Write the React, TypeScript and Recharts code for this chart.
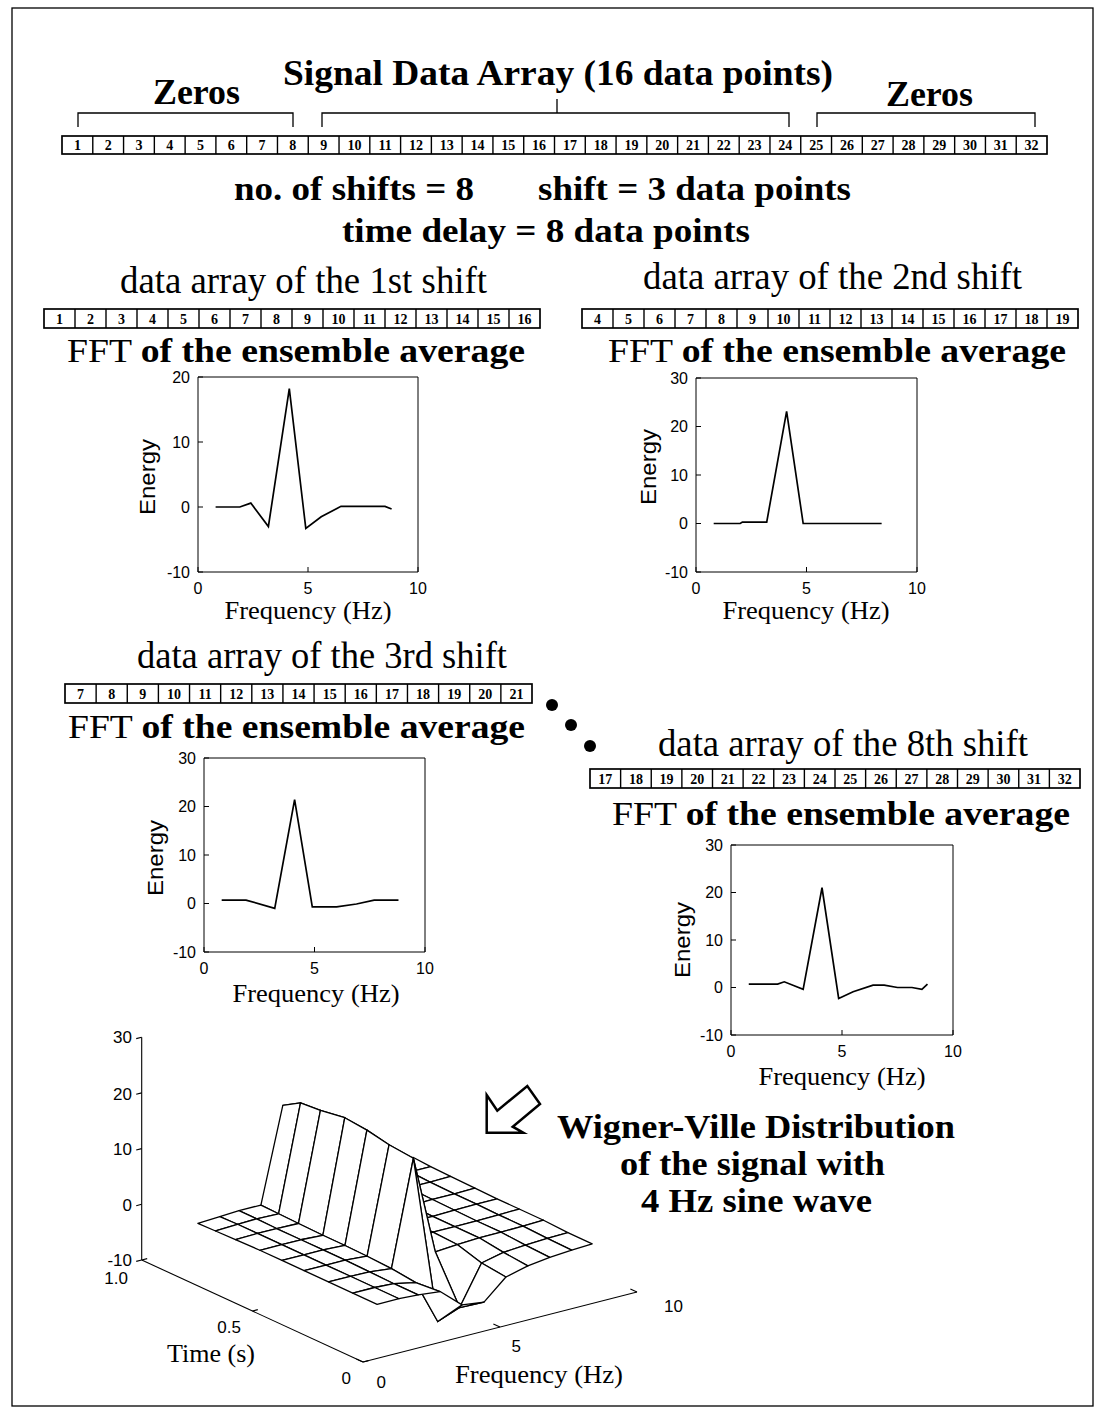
import React from 'react';
import { LineChart, Line, XAxis, YAxis, ScatterChart, Scatter } from 'recharts';

const SERIF = 'Liberation Serif, Times New Roman, Times, serif';
const SANS = 'Liberation Sans, Arial, Helvetica, sans-serif';

const range = (a: number, b: number) => Array.from({ length: b - a + 1 }, (_, i) => a + i);

// cell labels of the data arrays
const SIGNAL_CELLS = range(1, 32);
const SHIFT1_CELLS = range(1, 16);
const SHIFT2_CELLS = range(4, 19);
const SHIFT3_CELLS = range(7, 21);
const SHIFT8_CELLS = range(17, 32);

// FFT of the ensemble average
const FREQ_1 = [0.8, 1.9, 2.4, 3.2, 4.15, 4.9, 5.6, 6.5, 8.5, 8.8];
const ENERGY_1 = [0, 0, 0.6, -3.0, 18.2, -3.3, -1.5, 0.1, 0.1, -0.3];
const FREQ_2 = [0.8, 2.0, 2.1, 3.2, 4.1, 4.85, 8.4];
const ENERGY_2 = [0, 0, 0.3, 0.3, 23.1, 0, 0];
const FREQ_3 = [0.8, 1.9, 3.2, 4.1, 4.9, 6.0, 6.9, 7.7, 8.8];
const ENERGY_3 = [0.7, 0.7, -1.0, 21.4, -0.7, -0.7, -0.1, 0.7, 0.7];
const FREQ_8 = [0.8, 2.1, 2.4, 3.25, 4.1, 4.85, 5.5, 6.4, 6.9, 7.5, 8.15, 8.6, 8.85];
const ENERGY_8 = [0.7, 0.7, 1.2, -0.4, 21, -2.3, -0.9, 0.5, 0.5, 0, 0, -0.4, 0.7];

const FREQ_TICKS = [0, 5, 10];
const ENERGY_TICKS_20 = [-10, 0, 10, 20];
const ENERGY_TICKS_30 = [-10, 0, 10, 20, 30];

// Wigner-Ville distribution surface: rows = time, columns = frequency
const WV_FREQ = [1.0, 1.8, 2.5, 3.3, 4.1, 4.9, 5.7, 6.5, 7.3, 8.1, 8.85];
const WV_TIME = [0.06, 0.17, 0.28, 0.39, 0.49, 0.59, 0.7, 0.79, 0.87];
const WV_ENERGY = [
  [-2.0, -2.0, -2.2, -2.6, -6.0, -6.5, -3.0, -2.0, -1.5, -1.2, -1.0],
  [-2.0, -2.0, -2.2, -3.0, -11.0, -9.5, -2.5, -1.6, -1.3, -1.1, -1.0],
  [-2.0, -2.0, -2.1, -2.5, 16.3, -1.5, -1.2, -1.0, -1.0, -0.9, -0.8],
  [-2.0, -2.0, -2.0, -2.3, 16.7, -1.2, -1.0, -1.0, -1.0, -0.9, -0.8],
  [-2.0, -2.0, -2.0, -2.2, 17.5, -1.0, -1.0, -1.0, -0.9, -0.8, -0.8],
  [-2.0, -2.0, -2.0, -2.2, 17.9, -1.0, -1.0, -0.9, -0.8, -0.8, -0.7],
  [-2.1, -2.0, -2.0, -2.1, 17.2, -0.8, -0.8, -0.8, -0.7, -0.7, -0.6],
  [-2.2, -2.0, -1.9, -2.0, 16.9, -0.6, -0.6, -0.6, -0.6, -0.5, -0.5],
  [-2.3, -2.1, -1.9, -1.9, 15.0, -0.3, -0.4, -0.4, -0.4, -0.4, -0.3],
];
const WV_Z_TICKS = [-10, 0, 10, 20, 30];
const WV_T_TICKS = [0, 0.5, 1];
const WV_F_TICKS = [0, 5, 10];

// view of the 3-D box (azimuth/elevation as seen in the picture)
const proj = (f: number, t: number, z: number) => ({
  x: 363 + 27.4 * f - 221.3 * t,
  y: 1362 - 7 * f - 102 * t - 5.57 * (z + 10),
});

const noShape = () => <g />;
const quadLine = (p: any) => {
  const pts = p.points || [];
  const d = pts.map((q: any, i: number) => `${i ? 'L' : 'M'}${q.x},${q.y}`).join(' ') + ' Z';
  return <path d={d} fill="#fff" stroke="#000" strokeWidth={1.3} strokeLinejoin="round" />;
};
const axisLine = (p: any) => {
  const pts = p.points || [];
  const d = pts.map((q: any, i: number) => `${i ? 'L' : 'M'}${q.x},${q.y}`).join(' ');
  return <path d={d} fill="none" stroke="#000" strokeWidth={1.1} />;
};

function Txt({ x, y, w, size, bold, anchor, family, children }: any) {
  return (
    <text x={x} y={y} textLength={w} lengthAdjust="spacingAndGlyphs" textAnchor={anchor || 'start'} fill="#000"
      style={{ fontFamily: family || SERIF, fontSize: size, fontWeight: bold ? 700 : 400 }}>
      {children}
    </text>
  );
}

function CellArray({ x, y, w, h, labels }: any) {
  const cw = w / labels.length;
  return (
    <g>
      <rect x={x} y={y} width={w} height={h} fill="#fff" stroke="#000" strokeWidth={1.7} />
      {labels.map((n: number, i: number) => (
        <g key={n}>
          {i > 0 && <line x1={x + i * cw} x2={x + i * cw} y1={y} y2={y + h} stroke="#000" strokeWidth={1.4} />}
          <text x={x + (i + 0.5) * cw} y={y + h - 4} textAnchor="middle"
            style={{ fontFamily: SERIF, fontSize: 14, fontWeight: 700 }}>{n}</text>
        </g>
      ))}
    </g>
  );
}

function FftHeading({ x, y, w }: any) {
  return (
    <text x={x} y={y} textLength={w} lengthAdjust="spacingAndGlyphs" fill="#000"
      style={{ fontFamily: SERIF, fontSize: 34 }}>
      <tspan>FFT </tspan><tspan style={{ fontWeight: 700 }}>of the ensemble average</tspan>
    </text>
  );
}

function FftPanel({ freq, energy, yTicks, box }: any) {
  const data = freq.map((f: number, i: number) => ({ f, e: energy[i] }));
  const W = box.w + 100;
  const H = box.h + 70;
  const yDom = [yTicks[0], yTicks[yTicks.length - 1]];
  const tickStyle = { fill: '#000', fontSize: 16, fontFamily: SANS };
  return (
    <div style={{ position: 'absolute', left: box.x - 60, top: box.y - 10, width: W, height: H }}>
      <LineChart width={W} height={H} data={data} margin={{ top: 9, right: 39, bottom: 30, left: 20 }}>
        <XAxis xAxisId="b" dataKey="f" type="number" domain={[0, 10]} ticks={FREQ_TICKS} interval={0}
          height={30} tickSize={-5} tickMargin={16} tick={tickStyle} stroke="#000" />
        <XAxis xAxisId="t" orientation="top" dataKey="f" type="number" domain={[0, 10]} ticks={FREQ_TICKS}
          interval={0} height={1} tickSize={-5} tick={false} stroke="#000" />
        <YAxis yAxisId="l" type="number" domain={yDom} ticks={yTicks} interval={0} width={40}
          tickSize={-5} tickMargin={13} tick={tickStyle} stroke="#000" />
        <YAxis yAxisId="r" orientation="right" type="number" domain={yDom} ticks={yTicks} interval={0}
          width={1} tickSize={-5} tick={false} stroke="#000" />
        <Line xAxisId="t" yAxisId="r" dataKey="e" stroke="none" dot={false} isAnimationActive={false} />
        <Line xAxisId="b" yAxisId="l" dataKey="e" type="linear" stroke="#000" strokeWidth={1.7}
          dot={false} isAnimationActive={false} />
      </LineChart>
    </div>
  );
}

function WignerVille() {
  const quads: { pts: { x: number; y: number }[]; depth: number }[] = [];
  for (let j = 0; j < WV_TIME.length - 1; j++) {
    for (let i = 0; i < WV_FREQ.length - 1; i++) {
      const corners = [[i, j], [i + 1, j], [i + 1, j + 1], [i, j + 1]];
      const pts = corners.map(([a, b]) => proj(WV_FREQ[a], WV_TIME[b], WV_ENERGY[b][a]));
      const fc = (WV_FREQ[i] + WV_FREQ[i + 1]) / 2;
      const tc = (WV_TIME[j] + WV_TIME[j + 1]) / 2;
      quads.push({ pts, depth: 7 * fc + 102 * tc });
    }
  }
  quads.sort((a, b) => b.depth - a.depth);

  const zAxis = [proj(0, 1, -10), proj(0, 1, 30)];
  const tAxis = [proj(0, 1, -10), proj(0, 0, -10)];
  const fAxis = [proj(0, 0, -10), proj(10, 0, -10)];
  const ticks: { x: number; y: number }[][] = [
    ...WV_Z_TICKS.map(z => [proj(0, 1, z), proj(-0.2, 1, z)]),
    ...WV_T_TICKS.map(t => [proj(0, t, -10), proj(0.2, t, -10)]),
    ...WV_F_TICKS.map(f => [proj(f, 0, -10), proj(f, 0.03, -10)]),
  ];

  return (
    <div style={{ position: 'absolute', left: 100, top: 1020, width: 600, height: 390 }}>
      <ScatterChart width={600} height={390} margin={{ top: 0, right: 0, bottom: 0, left: 0 }}>
        <XAxis type="number" dataKey="x" domain={[100, 700]} allowDataOverflow hide />
        <YAxis type="number" dataKey="y" domain={[1020, 1410]} reversed allowDataOverflow hide />
        {[zAxis, tAxis, fAxis, ...ticks].map((d, k) => (
          <Scatter key={`ax${k}`} data={d} line={axisLine} lineType="joint" shape={noShape} isAnimationActive={false} />
        ))}
        {quads.map((q, k) => (
          <Scatter key={`q${k}`} data={q.pts} line={quadLine} lineType="joint" shape={noShape} isAnimationActive={false} />
        ))}
      </ScatterChart>
    </div>
  );
}

function EnergyLabel({ x, y }: any) {
  return (
    <text transform={`translate(${x},${y}) rotate(-90)`} textAnchor="middle"
      textLength={76} lengthAdjust="spacingAndGlyphs" style={{ fontFamily: SANS, fontSize: 22 }}>Energy</text>
  );
}

export default function App() {
  return (
    <div style={{ position: 'absolute', left: 0, top: 0, width: 1103, height: 1411, background: '#fff' }}>
      <svg width={1103} height={1411} style={{ position: 'absolute', left: 0, top: 0 }}>
        <rect x={12} y={8} width={1081} height={1398} fill="none" stroke="#000" strokeWidth={1.3} />

        <Txt x={283} y={85} w={550} size={36} bold>Signal Data Array (16 data points)</Txt>
        <Txt x={153} y={104} w={87} size={36} bold>Zeros</Txt>
        <Txt x={886} y={106} w={87} size={36} bold>Zeros</Txt>
        <g fill="none" stroke="#000" strokeWidth={1.3}>
          <path d="M78,127 L78,113 L293,113 L293,127" />
          <path d="M322,127 L322,113 L789,113 L789,127 M557,113 L557,99" />
          <path d="M817,127 L817,113 L1035,113 L1035,127" />
        </g>
        <CellArray x={62} y={136} w={985} h={18} labels={SIGNAL_CELLS} />

        <Txt x={234} y={200} w={240} size={34} bold>no. of shifts = 8</Txt>
        <Txt x={538} y={200} w={313} size={34} bold>shift = 3 data points</Txt>
        <Txt x={342} y={242} w={408} size={34} bold>time delay = 8 data points</Txt>

        <Txt x={120} y={293} w={367} size={38}>data array of the 1st shift</Txt>
        <CellArray x={44} y={309} w={496} h={19} labels={SHIFT1_CELLS} />
        <FftHeading x={67} y={362} w={458} />

        <Txt x={643} y={289} w={379} size={38}>data array of the 2nd shift</Txt>
        <CellArray x={582} y={309} w={496} h={19} labels={SHIFT2_CELLS} />
        <FftHeading x={608} y={362} w={458} />

        <Txt x={137} y={668} w={370} size={38}>data array of the 3rd shift</Txt>
        <CellArray x={65} y={684} w={467} h={19} labels={SHIFT3_CELLS} />
        <FftHeading x={68} y={738} w={457} />

        <Txt x={658} y={756} w={370} size={38}>data array of the 8th shift</Txt>
        <CellArray x={590} y={769} w={490} h={19} labels={SHIFT8_CELLS} />
        <FftHeading x={612} y={825} w={458} />

        <circle cx={552} cy={705} r={6} fill="#000" />
        <circle cx={571} cy={725} r={6} fill="#000" />
        <circle cx={590} cy={746} r={6} fill="#000" />

        {/* axis labels of the small plots */}
        <EnergyLabel x={155} y={477} />
        <EnergyLabel x={656} y={467} />
        <EnergyLabel x={163} y={858} />
        <EnergyLabel x={690} y={940} />
        <Txt x={308} y={619} w={167} size={25} anchor="middle">Frequency (Hz)</Txt>
        <Txt x={806} y={619} w={167} size={25} anchor="middle">Frequency (Hz)</Txt>
        <Txt x={316} y={1002} w={167} size={25} anchor="middle">Frequency (Hz)</Txt>
        <Txt x={842} y={1085} w={167} size={25} anchor="middle">Frequency (Hz)</Txt>

        {/* 3-D plot labels */}
        <g textAnchor="end" style={{ fontFamily: SANS, fontSize: 17 }}>
          <text x={132} y={1043}>30</text>
          <text x={132} y={1100}>20</text>
          <text x={132} y={1155}>10</text>
          <text x={132} y={1211}>0</text>
          <text x={132} y={1266}>-10</text>
          <text x={128} y={1284}>1.0</text>
          <text x={241} y={1333}>0.5</text>
          <text x={351} y={1384}>0</text>
          <text x={386} y={1388}>0</text>
          <text x={521} y={1352}>5</text>
          <text x={683} y={1312}>10</text>
        </g>
        <Txt x={167} y={1362} w={88} size={25}>Time (s)</Txt>
        <Txt x={455} y={1383} w={168} size={25}>Frequency (Hz)</Txt>

        <path d="M486.7,1095 L497.3,1110.7 L527.3,1086 L540,1104 L512.7,1126.7 L523.3,1132.7 L486.7,1132.7 Z"
          fill="#fff" stroke="#000" strokeWidth={2.5} strokeLinejoin="miter" />
        <Txt x={557} y={1138} w={398} size={34} bold>Wigner-Ville Distribution</Txt>
        <Txt x={620} y={1175} w={265} size={33} bold>of the signal with</Txt>
        <Txt x={641} y={1212} w={231} size={33} bold>4 Hz sine wave</Txt>
      </svg>

      <FftPanel freq={FREQ_1} energy={ENERGY_1} yTicks={ENERGY_TICKS_20} box={{ x: 198, y: 377, w: 220, h: 195 }} />
      <FftPanel freq={FREQ_2} energy={ENERGY_2} yTicks={ENERGY_TICKS_30} box={{ x: 696, y: 378, w: 221, h: 194 }} />
      <FftPanel freq={FREQ_3} energy={ENERGY_3} yTicks={ENERGY_TICKS_30} box={{ x: 204, y: 758, w: 221, h: 194 }} />
      <FftPanel freq={FREQ_8} energy={ENERGY_8} yTicks={ENERGY_TICKS_30} box={{ x: 731, y: 845, w: 222, h: 190 }} />
      <WignerVille />
    </div>
  );
}
